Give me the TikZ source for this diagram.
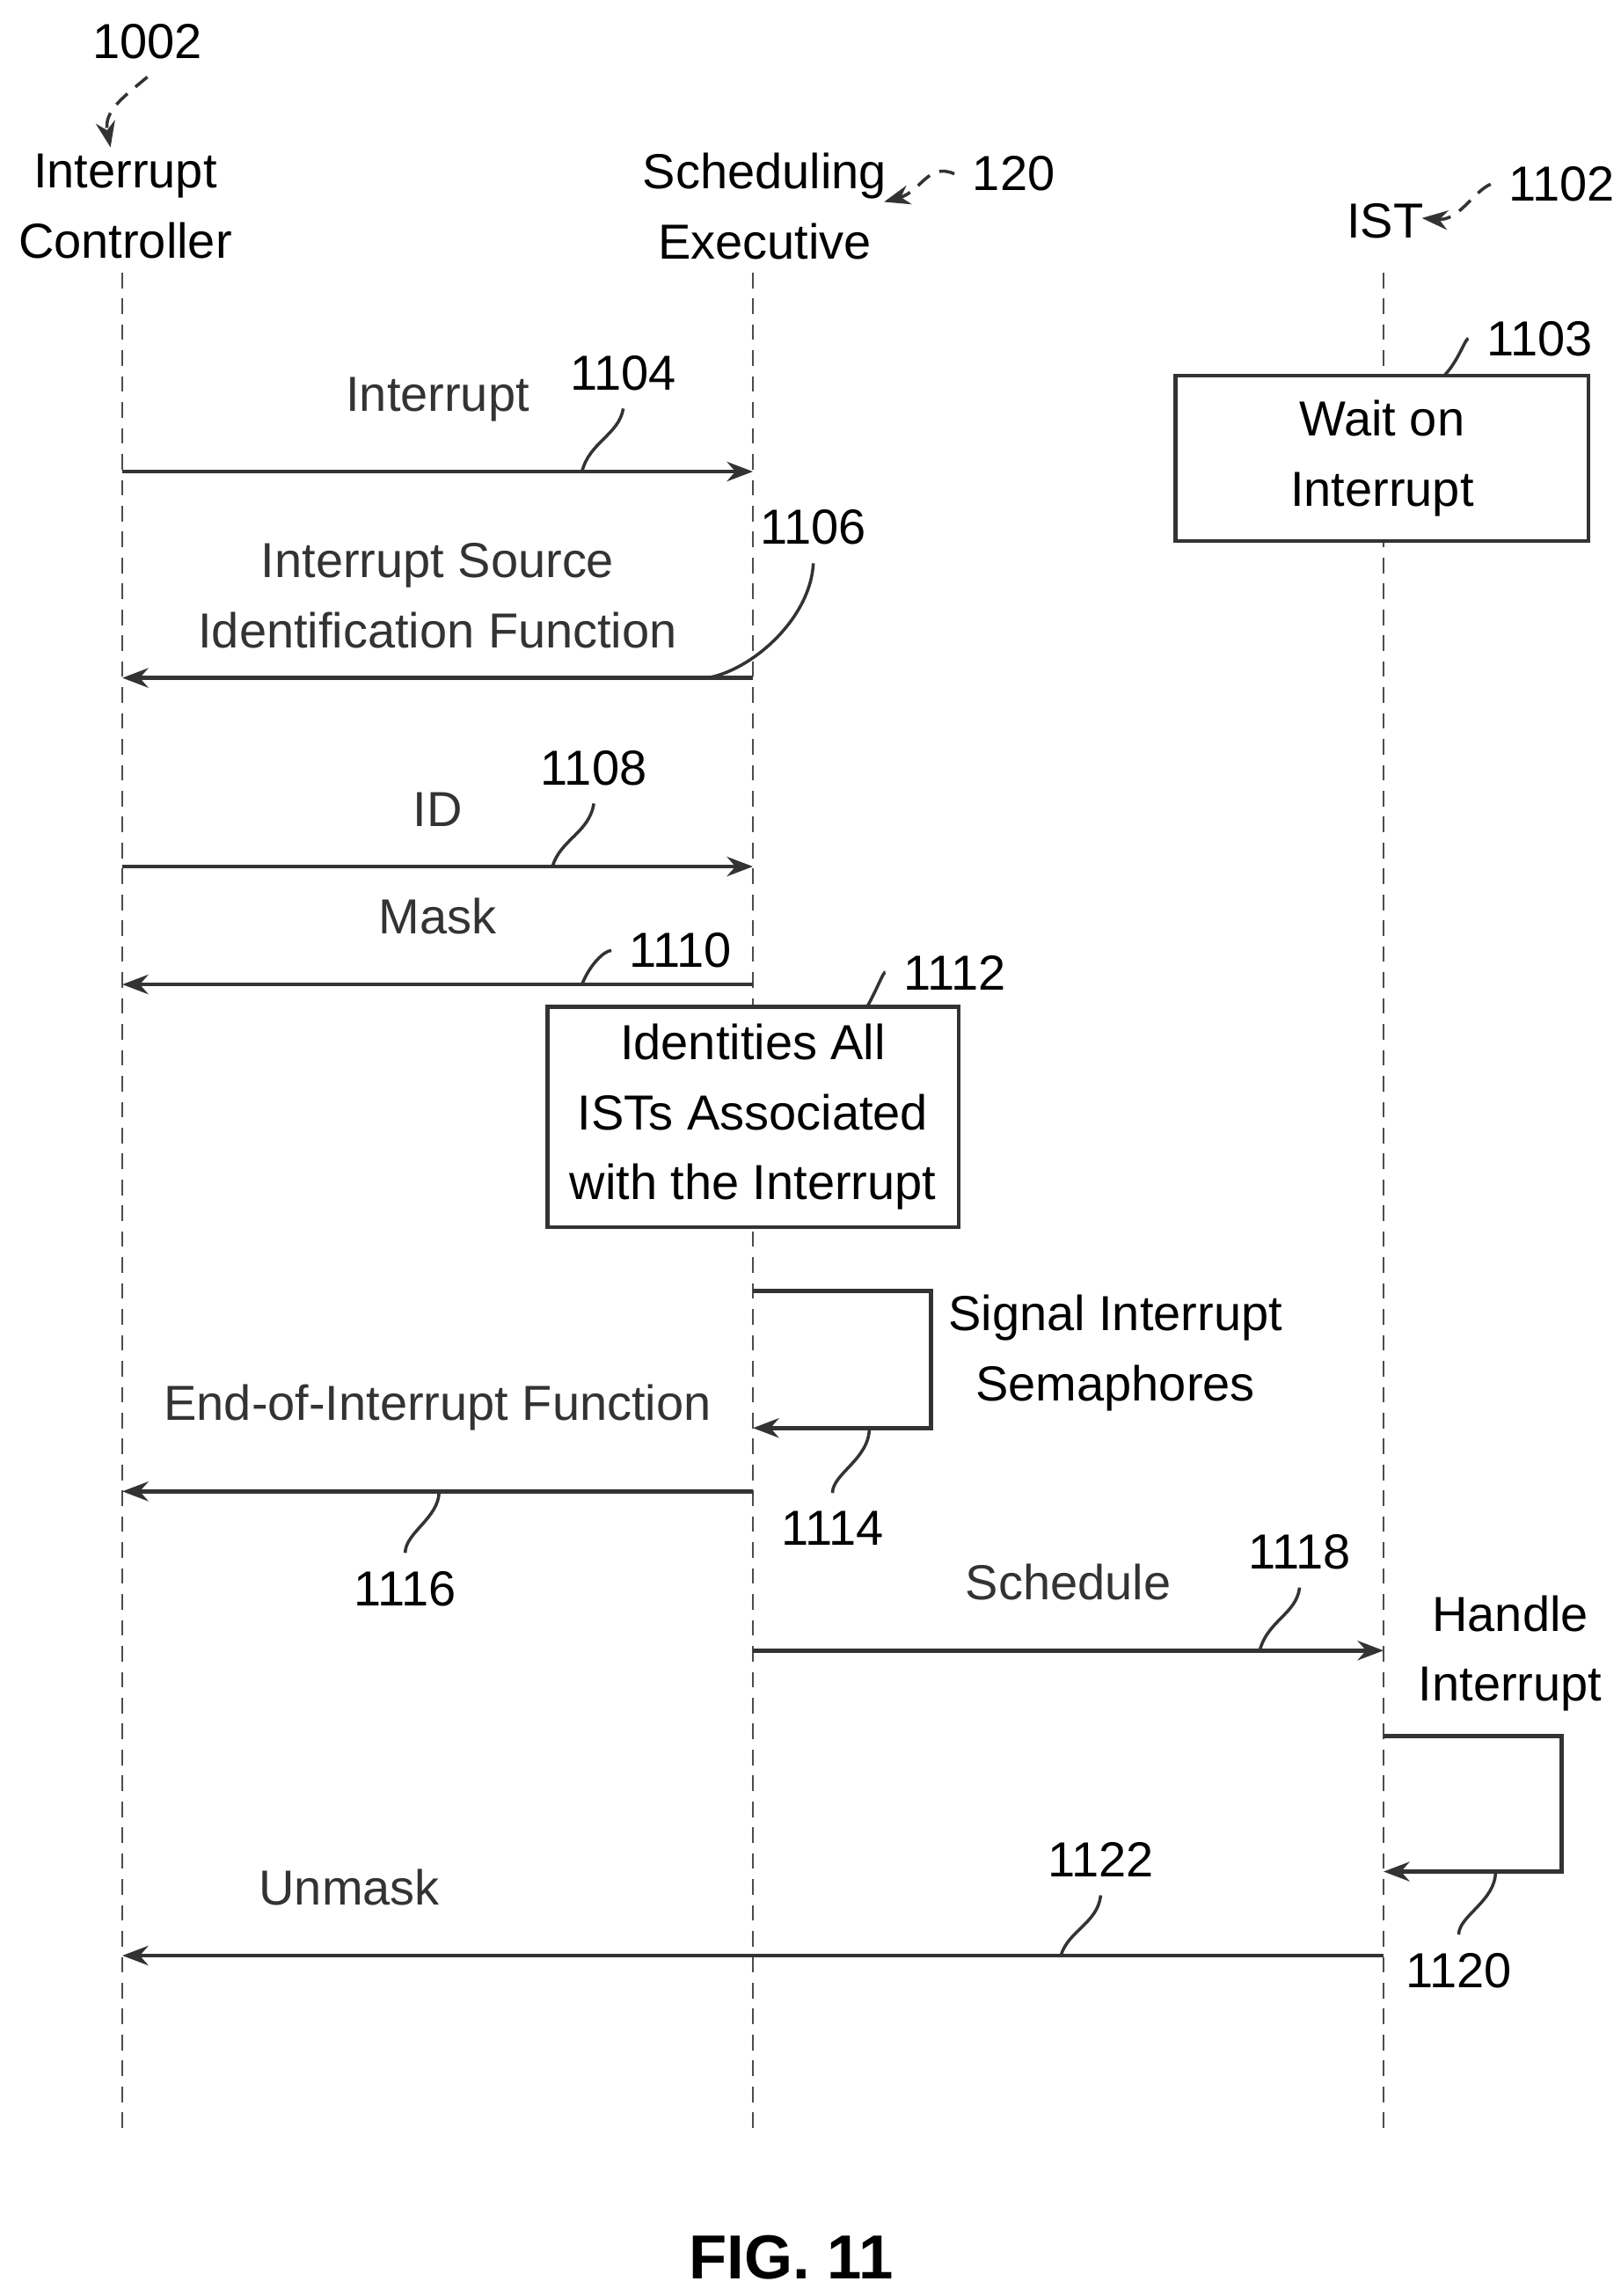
\documentclass[tikz,border=0pt]{standalone}
\usepackage{fontspec}
\setmainfont{Liberation Sans}
\usetikzlibrary{arrows.meta}
\tikzset{
  txt/.style={align=center, font=\fontsize{9.5}{13.5}\selectfont},
  life/.style={densely dashed, thin, gray!60!black},
  msg/.style={thick, gray!40!black, -{Stealth[length=5pt]}},
  box/.style={draw=gray!40!black, thick, fill=white, text=black, align=center, font=\fontsize{9.5}{13.5}\selectfont},
  lead/.style={gray!40!black, semithick},
  ref/.style={gray!40!black, semithick, densely dashed, -{Stealth[length=5pt]}}
}
\begin{document}
\begin{tikzpicture}[x=0.01cm, y=-0.01cm]
  \useasboundingbox (0,0) rectangle (1100,1558);
  % lifelines
  \node (ich) [txt] at (85,140) {Interrupt\\Controller};
  \node (seh) [txt] at (519,140) {Scheduling\\Executive};
  \node (isth) [txt] at (940,150) {IST};
  \coordinate (ic) at (83,185);   \coordinate (icb) at (83,1445);
  \coordinate (se) at (511,185);  \coordinate (seb) at (511,1445);
  \coordinate (ist) at (939,185); \coordinate (istb) at (939,1445);
  \draw [life] (ic) -- (icb);
  \draw [life] (se) -- (seb);
  \draw [life] (ist) -- (istb);
  % header references
  \node (l1002) [txt] at (100,28) {1002};
  \node (l120) [txt] at (688,118) {120};
  \node (l1102) [txt] at (1060,125) {1102};
  \draw [ref] (l1002.south) .. controls (85,65) and (70,75) .. (75,100);
  \draw [ref] (l120.west) .. controls (630,110) and (625,130) .. (600,137);
  \draw [ref] (l1102.west) .. controls (1000,130) and (990,150) .. (965,148);
  % rows
  \coordinate (r1) at (0,320);  \coordinate (r2) at (0,460);
  \coordinate (r3) at (0,588);  \coordinate (r4) at (0,668);
  \coordinate (r5) at (0,1012); \coordinate (r6) at (0,1120);
  \coordinate (r7) at (0,1327);
  % boxes
  \node (wait) [box, minimum width=2.8cm, minimum height=1.12cm] at (938,311) {Wait on\\Interrupt};
  \node (ident) [box, minimum width=2.79cm, minimum height=1.49cm] at (511,758) {Identities All\\ISTs Associated\\with the Interrupt};
  \node (l1103) [txt] at (1045,230) {1103};
  \node (l1112) [txt] at (648,660) {1112};
  \draw [lead] (l1103.west) .. controls (995,228) and (990,245) .. (980,255);
  \draw [lead] (l1112.west) .. controls (600,658) and (595,672) .. (588,684);
  % messages
  \draw [msg] (ic |- r1) -- node[txt, above=6pt, pos=0.5] {Interrupt} (se |- r1);
  \draw [msg] (se |- r2) -- node[txt, above=2pt] {Interrupt Source\\Identification Function} (ic |- r2);
  \draw [msg] (ic |- r3) -- node[txt, above=4pt] {ID} (se |- r3);
  \draw [msg] (se |- r4) -- node[txt, above=6pt] {Mask} (ic |- r4);
  \draw [msg] (se |- r5) -- node[txt, above=8pt] {End-of-Interrupt Function} (ic |- r5);
  \draw [msg] (se |- r6) -- node[txt, above=6pt] {Schedule} (ist |- r6);
  \draw [msg] (ist |- r7) -- node[txt, above=6pt, pos=0.82] {Unmask} (ic |- r7);
  % self loops
  \coordinate (s1) at (511,876); \coordinate (s1e) at (511,969);
  \coordinate (s2) at (939,1178); \coordinate (s2e) at (939,1270);
  \draw [msg] (s1) -| (632,969) -- (s1e);
  \draw [msg] (s2) -| (1060,1270) -- (s2e);
  \node (sig) [txt] at (757,918) {Signal Interrupt\\Semaphores};
  \node (hand) [txt] at (1025,1122) {Handle\\Interrupt};
  % numbers
  \node (l1104) [txt] at (423,253) {1104};
  \node (l1106) [txt] at (552,358) {1106};
  \node (l1108) [txt] at (403,521) {1108};
  \node (l1110) [txt] at (462,645) {1110};
  \node (l1114) [txt] at (565,1037) {1114};
  \node (l1116) [txt] at (275,1078) {1116};
  \node (l1118) [txt] at (882,1053) {1118};
  \node (l1120) [txt] at (990,1337) {1120};
  \node (l1122) [txt] at (747,1262) {1122};
  \draw [lead] (l1104.south) .. controls (420,295) and (400,300) .. (395,320);
  \draw [lead] (l1106.south) .. controls (550,420) and (510,455) .. (480,460);
  \draw [lead] (l1108.south) .. controls (400,565) and (380,570) .. (375,588);
  \draw [lead] (l1110.west) .. controls (410,645) and (400,655) .. (395,668);
  \draw [lead] (l1114.north) .. controls (565,1000) and (590,990) .. (590,969);
  \draw [lead] (l1116.north) .. controls (275,1040) and (298,1030) .. (298,1012);
  \draw [lead] (l1118.south) .. controls (880,1095) and (860,1100) .. (855,1120);
  \draw [lead] (l1120.north) .. controls (990,1300) and (1015,1290) .. (1015,1270);
  \draw [lead] (l1122.south) .. controls (745,1305) and (725,1310) .. (720,1327);
  \node (fig) [font=\bfseries\fontsize{12}{14}\selectfont] at (537,1532) {FIG. 11};
\end{tikzpicture}
\end{document}
